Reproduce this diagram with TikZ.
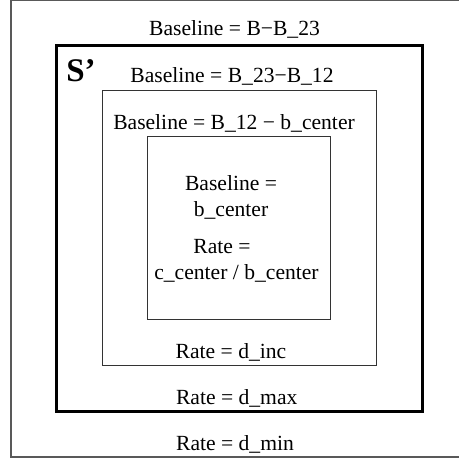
\documentclass[tikz,border=0pt]{standalone}
\usepackage{fontspec}
\setmainfont{Liberation Serif}
\begin{document}
\begin{tikzpicture}[x=0.5pt,y=-0.5pt,font=\fontsize{10.8}{13}\selectfont,
  lbl/.style={inner sep=0pt,anchor=base}]
\useasboundingbox (0,0) rectangle (459,458);
\draw[line width=0.6pt,black!65] (459,0.8)--(11,0.8)--(11,457)--(459,457);
\draw[line width=1.5pt] (56,45.5) rectangle (422,411.5);
\draw[line width=0.5pt,black!80] (102.3,91) rectangle (376,365.7);
\draw[line width=0.5pt,black!80] (147.7,136.7) rectangle (330.7,320);
\node[inner sep=0pt,anchor=base west,font=\fontsize{16.5}{19}\selectfont\bfseries] (sprime) at (66,82) {S’};
\node[lbl] (blout) at (234.5,36) {Baseline = B−B\_23};
\node[lbl] (blthick) at (232,83) {Baseline = B\_23−B\_12};
\node[lbl] (blmid) at (234,130) {Baseline = B\_12 − b\_center};
\node[lbl] (blin) at (231,191) {Baseline =};
\node[lbl] (blinval) at (231,217) {b\_center};
\node[lbl] (rtin) at (222,254) {Rate =};
\node[lbl] (rtinval) at (236.5,280) {c\_center / b\_center};
\node[lbl] (rtmid) at (231,358) {Rate = d\_inc};
\node[lbl] (rtthick) at (236.7,404) {Rate = d\_max};
\node[lbl] (rtout) at (235,450) {Rate = d\_min};
\end{tikzpicture}
\end{document}
